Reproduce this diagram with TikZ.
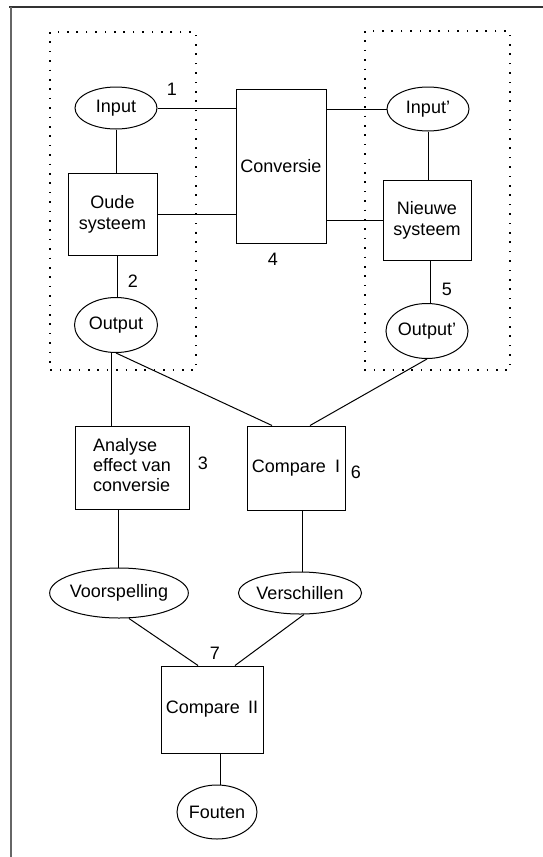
\documentclass[tikz,border=0pt]{standalone}
\usepackage{fontspec}
\setmainfont{Liberation Sans}
\usetikzlibrary{shapes.geometric}
\begin{document}
\begin{tikzpicture}[x=1pt,y=-1pt,
  every node/.style={font=\fontsize{18}{21}\selectfont},
  proc/.style={draw,line width=1pt,inner sep=0pt,align=center},
  dat/.style={draw,ellipse,line width=1pt,inner sep=0pt},
  link/.style={line width=1pt},
  grp/.style={line width=1.6pt,dash pattern=on 1.6pt off 7.8pt},
  num/.style={inner sep=0pt}]
\useasboundingbox (0,0) rectangle (543,857);
% page frame (top and left edges)
\draw[line width=1.6pt,black!80] (9,7) -- (543,7);
\draw[line width=2.2pt,black!60] (11,7) -- (11,857);
% dotted groupings of the old and the new system
\draw[grp] (50,32) rectangle (196,370);
\draw[grp] (365,31) rectangle (510,370);
% old system
\node[dat,minimum width=82pt,minimum height=42pt] (in) at (116,108) {Input};
\node[proc,minimum width=89pt,minimum height=82pt] (old) at (112.5,214) {Oude\\systeem};
\node[dat,minimum width=83pt,minimum height=55pt] (out) at (116,325) {Output};
% conversion
\node[proc,minimum width=90pt,minimum height=154pt] (conv) at (281,166) {Conversie};
% new system
\node[dat,minimum width=82pt,minimum height=44pt] (inp) at (428,109) {Input'};
\node[proc,minimum width=88pt,minimum height=80pt] (new) at (427,220) {Nieuwe\\systeem};
\node[dat,minimum width=82pt,minimum height=55pt] (outp) at (427,331) {Output'};
% analysis and comparisons
\node[proc,minimum width=114pt,minimum height=83pt] (ana) at (132,467.5)
  {\renewcommand{\arraystretch}{0.95}\begin{tabular}{@{}l@{}}Analyse\\effect van\\conversie\end{tabular}};
\node[proc,minimum width=98pt,minimum height=84pt] (cmp1) at (296,468) {Compare\hspace{0.5em}I};
\node[dat,minimum width=118pt,minimum height=50pt] (pred) at (119,593) {Voorspelling};
\node[dat,minimum width=108pt,minimum height=42pt] (diff) at (300,593) {Verschillen};
\node[proc,minimum width=102pt,minimum height=87pt] (cmp2) at (212,709.5) {Compare\hspace{0.45em}II};
\node[dat,minimum width=80pt,minimum height=54pt] (err) at (217,812) {Fouten};
% step numbers
\node[num] (n1) at (172,89) {1};
\node[num] (n2) at (133,281) {2};
\node[num] (n3) at (203,463) {3};
\node[num] (n4) at (273,259) {4};
\node[num] (n5) at (447,289) {5};
\node[num] (n6) at (356,472) {6};
\node[num] (n7) at (215,653) {7};
% connectors
\draw[link] (in.east) -- (in.east -| conv.west);
\draw[link] (old.east) -- (old.east -| conv.west);
\draw[link] (inp.west -| conv.east) -- (inp.west);
\draw[link] (new.west -| conv.east) -- (new.west);
\draw[link] (in.south) -- (in.south |- old.north);
\draw[link] ([xshift=4.5pt]old.south) -- ([xshift=4.5pt]old.south |- out.north);
\draw[link] (inp.south) -- (inp.south |- new.north);
\draw[link] ([xshift=3pt]new.south) -- ([xshift=3pt]new.south |- outp.north);
\draw[link] ([xshift=-5pt]out.south) -- ([xshift=-5pt]out.south |- ana.north);
\draw[link] (out.south) -- ([xshift=-24pt]cmp1.north);
\draw[link] (outp.south) -- ([xshift=14pt]cmp1.north);
\draw[link] ([xshift=-14pt]ana.south) -- ([xshift=-14pt]ana.south |- pred.north);
\draw[link] ([xshift=6pt]cmp1.south) -- ([xshift=6pt]cmp1.south |- diff.north);
\draw[link] ([xshift=10pt]pred.south) -- ([xshift=-14pt]cmp2.north);
\draw[link] ([xshift=4pt]diff.south) -- ([xshift=23pt]cmp2.north);
\draw[link] ([xshift=8pt]cmp2.south) -- ([xshift=8pt]cmp2.south |- err.north);
\end{tikzpicture}
\end{document}
